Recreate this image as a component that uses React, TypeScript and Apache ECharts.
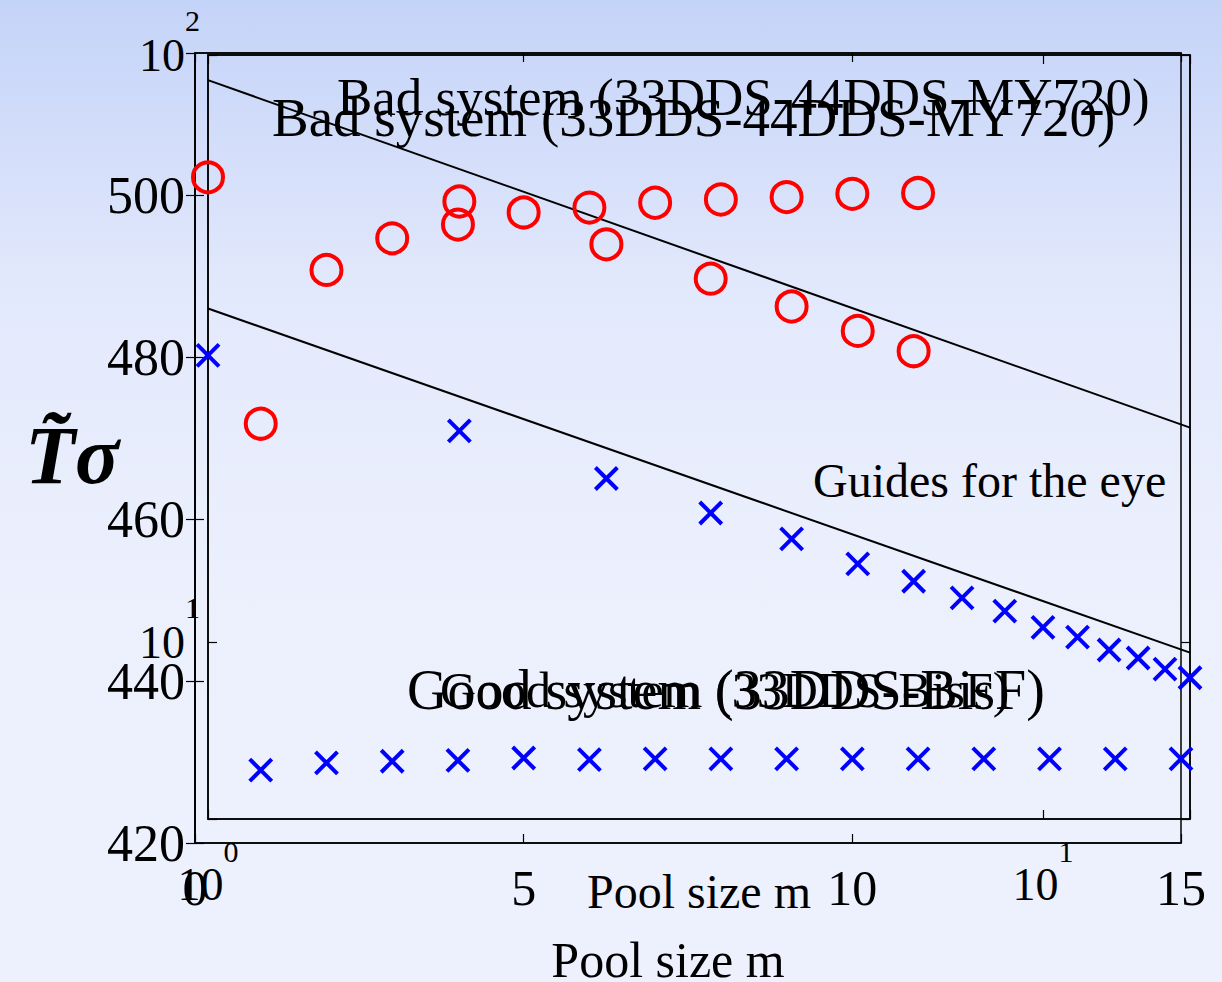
import React, { useEffect, useRef } from "react";
import * as echarts from "echarts";

// ---- Linear chart (Pool size m vs T~sigma) ----
const linBadX = [1, 2, 3, 4, 5, 6, 7, 8, 9, 10, 11];
const linBadY = [471.8, 490.8, 494.7, 496.4, 497.9, 498.5, 499.1, 499.5, 499.8, 500.2, 500.3];
const linGoodX = [1, 2, 3, 4, 5, 6, 7, 8, 9, 10, 11, 12, 13, 14, 15];
const linGoodY = [429.0, 429.9, 430.1, 430.2, 430.5, 430.3, 430.4, 430.4, 430.4, 430.4, 430.4, 430.4, 430.4, 430.4, 430.4];

// ---- Log-log chart ----
const logBadX = [1, 2, 3, 4, 5, 6, 7];
const logBadY = [61.9, 56.3, 47.6, 41.6, 37.3, 33.9, 31.3];
const logGoodX = [1, 2, 3, 4, 5, 6, 7, 8, 9, 10, 11, 12, 13, 14, 15];
const logGoodY = [30.8, 22.9, 19.0, 16.6, 15.0, 13.6, 12.7, 11.9, 11.3, 10.6, 10.2, 9.7, 9.4, 9.0, 8.7];
const guideUpperX = [1, 15];
const guideUpperY = [90.6, 23.2];
const guideLowerX = [1, 15];
const guideLowerY = [37.0, 9.6];

const linXTicks = { min: 0, max: 15, interval: 5 };
const linYTicks = { min: 420, max: 517.6, interval: 20 };
const logXRange = { min: 1, max: 15 };
const logYRange = { min: 5, max: 100 };

const badTitle = "Bad system (33DDS-44DDS-MY720)";
const goodTitle = "Good system (33DDS-BisF)";
const guideText = "Guides for the eye";
const xName = "Pool size m";
const yName = "T\u0303\u03c3";

const SERIF = "'Liberation Serif', 'DejaVu Serif', serif";

const zip = (xs: number[], ys: number[]) => xs.map((x, i) => [x, ys[i]]);

const pow10Label = (v: number) => {
  const l = Math.log10(v);
  const r = Math.round(l);
  if (Math.abs(l - r) < 1e-6) return `{b|10}{s|${r}}`;
  return "";
};

export default function App() {
  const ref = useRef<HTMLDivElement>(null);
  useEffect(() => {
    if (!ref.current) return;
    const chart = echarts.init(ref.current, null, { renderer: "svg" });
    const black = "#000";
    const tickInside = { show: true, inside: true, length: 9, lineStyle: { color: black, width: 1.2 } };
    const line = { show: true, lineStyle: { color: black, width: 1.5 } };
    const richY = {
      b: { fontSize: 46, fontFamily: SERIF, color: black },
      s: { fontSize: 30, fontFamily: SERIF, color: black, padding: [0, 0, 70, 0] },
    };
    const richX = {
      b: { fontSize: 46, fontFamily: SERIF, color: black },
      s: { fontSize: 30, fontFamily: SERIF, color: black, padding: [0, 0, 66, 0] },
    };
    const crossPath = "path://M0,0L10,10M10,0L0,10";
    chart.setOption({
      animation: false,
      backgroundColor: {
        type: "linear", x: 0, y: 0, x2: 0, y2: 1,
        colorStops: [
          { offset: 0, color: "#c4d3f8" },
          { offset: 0.3, color: "#e3e9fc" },
          { offset: 0.6, color: "#ecf0fd" },
          { offset: 1, color: "#eef0fd" },
        ],
      },
      grid: [
        { left: 195, top: 53, width: 986, height: 790, show: true, borderColor: black, borderWidth: 1.5, backgroundColor: "transparent", outerBoundsMode: "none", containLabel: false },
        { left: 208, top: 55, width: 982, height: 764, show: true, borderColor: black, borderWidth: 1.5, backgroundColor: "transparent", outerBoundsMode: "none", containLabel: false },
      ],
      xAxis: [
        {
          gridIndex: 0, type: "value", position: "bottom", ...linXTicks,
          axisLine: line, axisTick: tickInside, splitLine: { show: false },
          axisLabel: { fontSize: 50, fontFamily: SERIF, color: black, margin: 20 },
          name: xName, nameLocation: "middle", nameGap: 92, nameMoveOverlap: false,
          nameTextStyle: { fontSize: 50, fontFamily: SERIF, color: black, padding: [0, 40, 0, 0] },
        },
        {
          gridIndex: 0, type: "value", position: "top", ...linXTicks,
          axisLine: line, axisTick: tickInside, splitLine: { show: false }, axisLabel: { show: false },
        },
        {
          gridIndex: 1, type: "log", logBase: 10, position: "bottom", ...logXRange,
          axisLine: line, axisTick: tickInside, splitLine: { show: false },
          axisLabel: { formatter: pow10Label, rich: richX, margin: 17 },
          name: xName, nameLocation: "middle", nameGap: 48, nameMoveOverlap: false,
          nameTextStyle: { fontSize: 48, fontFamily: SERIF, color: black },
        },
        {
          gridIndex: 1, type: "log", logBase: 10, position: "top", ...logXRange,
          axisLine: line, axisTick: tickInside, splitLine: { show: false }, axisLabel: { show: false },
        },
      ],
      yAxis: [
        {
          gridIndex: 0, type: "value", position: "left", ...linYTicks,
          axisLine: line, axisTick: tickInside, splitLine: { show: false },
          axisLabel: { fontSize: 52, fontFamily: SERIF, color: black, margin: 10, showMaxLabel: false },
        },
        {
          gridIndex: 0, type: "value", position: "right", ...linYTicks,
          axisLine: line, axisTick: tickInside, splitLine: { show: false }, axisLabel: { show: false },
        },
        {
          gridIndex: 1, type: "log", logBase: 10, position: "left", ...logYRange,
          axisLine: line, axisTick: tickInside, splitLine: { show: false },
          axisLabel: { formatter: pow10Label, rich: richY, margin: 8 },
        },
        {
          gridIndex: 1, type: "log", logBase: 10, position: "right", ...logYRange,
          axisLine: line, axisTick: tickInside, splitLine: { show: false }, axisLabel: { show: false },
        },
      ],
      series: [
        {
          type: "line", xAxisIndex: 2, yAxisIndex: 2, data: zip(guideUpperX, guideUpperY),
          symbol: "none", lineStyle: { color: black, width: 2 }, z: 1,
        },
        {
          type: "line", xAxisIndex: 2, yAxisIndex: 2, data: zip(guideLowerX, guideLowerY),
          symbol: "none", lineStyle: { color: black, width: 2 }, z: 1,
        },
        {
          type: "scatter", xAxisIndex: 0, yAxisIndex: 0, data: zip(linBadX, linBadY), clip: false,
          symbol: "circle", symbolSize: 30,
          itemStyle: { color: "transparent", borderColor: "#ff0000", borderWidth: 4, opacity: 1 },
        },
        {
          type: "scatter", xAxisIndex: 0, yAxisIndex: 0, data: zip(linGoodX, linGoodY), clip: false,
          symbol: crossPath, symbolSize: 22,
          itemStyle: { color: "none", borderColor: "#0000ff", borderWidth: 4, opacity: 1 },
        },
        {
          type: "scatter", xAxisIndex: 2, yAxisIndex: 2, data: zip(logBadX, logBadY), clip: false,
          symbol: "circle", symbolSize: 30,
          itemStyle: { color: "transparent", borderColor: "#ff0000", borderWidth: 4, opacity: 1 },
        },
        {
          type: "scatter", xAxisIndex: 2, yAxisIndex: 2, data: zip(logGoodX, logGoodY), clip: false,
          symbol: crossPath, symbolSize: 22,
          itemStyle: { color: "none", borderColor: "#0000ff", borderWidth: 4, opacity: 1 },
        },
      ],
      graphic: [
        { type: "text", x: 337, y: 97, z: 10, style: { text: badTitle, fontSize: 53, fontFamily: SERIF, fill: black, align: "left", verticalAlign: "middle" } },
        { type: "text", x: 272, y: 117, z: 10, style: { text: badTitle, fontSize: 55, fontFamily: SERIF, fill: black, align: "left", verticalAlign: "middle" } },
        { type: "text", x: 407, y: 690, z: 10, style: { text: goodTitle, fontSize: 56, fontFamily: SERIF, fill: black, align: "left", verticalAlign: "middle" } },
        { type: "text", x: 440, y: 690, z: 10, style: { text: goodTitle, fontSize: 50, fontFamily: SERIF, fill: black, align: "left", verticalAlign: "middle" } },
        { type: "text", x: 813, y: 480, z: 10, style: { text: guideText, fontSize: 48, fontFamily: SERIF, fill: black, align: "left", verticalAlign: "middle" } },
        { type: "text", x: 25, y: 455, z: 10, style: { text: yName, fontSize: 82, fontFamily: SERIF, fontStyle: "italic", fontWeight: "bold", fill: black, align: "left", verticalAlign: "middle" } },
      ],
    });
    return () => chart.dispose();
  }, []);
  return <div ref={ref} style={{ position: "absolute", left: 0, top: 0, width: 1222, height: 982 }} />;
}
